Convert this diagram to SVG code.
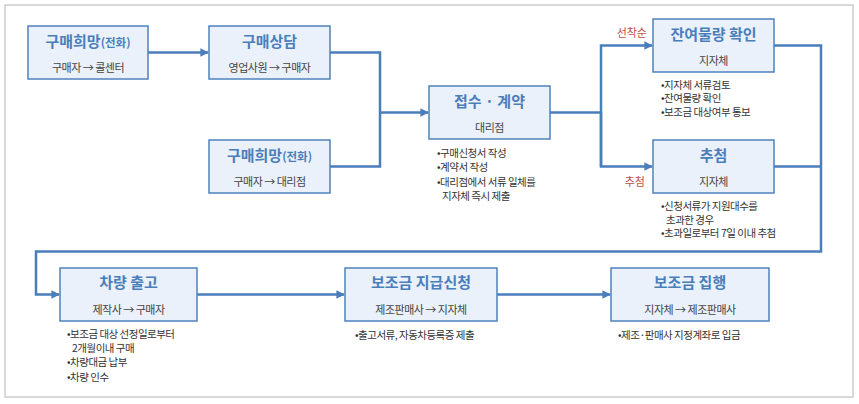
<svg xmlns="http://www.w3.org/2000/svg" width="859" height="404" viewBox="0 0 859 404">
<style>
.box{fill:#eaf1fa;stroke:#4f81bd;stroke-width:1.5}
.ttl{font-family:"Noto Sans CJK KR","Noto Sans",sans-serif;font-size:15px;font-weight:bold;fill:#4a7ebb;text-anchor:middle}
.sm{font-size:11.5px}
.sub{font-family:"Noto Sans CJK KR","Noto Sans",sans-serif;font-size:11px;fill:#444;text-anchor:middle;letter-spacing:-0.5px}
.bl{font-family:"Noto Sans CJK KR","Noto Sans",sans-serif;font-size:10.5px;fill:#333;letter-spacing:-0.5px}
.red{font-family:"Noto Sans CJK KR","Noto Sans",sans-serif;font-size:11px;fill:#c0504d;text-anchor:end}
.ln{fill:none;stroke:#4a7ebb;stroke-width:2.5}
</style>
<defs>
<marker id="ah" viewBox="0 0 10 10" refX="9" refY="5" markerWidth="3.4" markerHeight="3.4" orient="auto" markerUnits="strokeWidth">
<path d="M0,0 L10,5 L0,10 z" fill="#4a7ebb"/>
</marker>
</defs>
<rect x="5" y="5" width="848" height="392" fill="#fff" stroke="#c0c0c0" stroke-width="1.2"/>
<g id="connectors">
<path class="ln" d="M148,52.5 H208" marker-end="url(#ah)"/>
<path class="ln" d="M330,52.5 H380 V166.5 H330"/>
<path class="ln" d="M380,112.5 H428" marker-end="url(#ah)"/>
<path class="ln" d="M550,112.5 H601"/>
<path class="ln" d="M601,166.5 V45.5 H652" marker-end="url(#ah)"/>
<path class="ln" d="M601,112.5 V166.5 H652" marker-end="url(#ah)"/>
<path class="ln" d="M774,45.5 H821 V251.5 H36 V294.5 H59" marker-end="url(#ah)"/>
<path class="ln" d="M774,166.5 H821"/>
<path class="ln" d="M197,294.5 H344" marker-end="url(#ah)"/>
<path class="ln" d="M497,294.5 H610" marker-end="url(#ah)"/>
</g>
<g id="n1">
<rect class="box" x="28" y="26" width="120" height="53"/>
<text class="ttl" x="88" y="47">구매희망<tspan class="sm">(전화)</tspan></text>
<text class="sub" x="88" y="72">구매자 → 콜센터</text>
</g>
<g id="n2">
<rect class="box" x="209" y="26" width="121" height="53"/>
<text class="ttl" x="269.5" y="47">구매상담</text>
<text class="sub" x="269.5" y="72">영업사원 → 구매자</text>
</g>
<g id="n3">
<rect class="box" x="209" y="140" width="121" height="53"/>
<text class="ttl" x="269.5" y="161">구매희망<tspan class="sm">(전화)</tspan></text>
<text class="sub" x="269.5" y="186">구매자 → 대리점</text>
</g>
<g id="n4">
<rect class="box" x="429" y="86" width="121" height="53"/>
<text class="ttl" x="489.5" y="107">접수 · 계약</text>
<text class="sub" x="489.5" y="132">대리점</text>
<text class="bl" x="437" y="157">•구매신청서 작성</text>
<text class="bl" x="437" y="171">•계약서 작성</text>
<text class="bl" x="437" y="186">•대리점에서 서류 일체를</text>
<text class="bl" x="442" y="200">지자체 즉시 제출</text>
</g>
<g id="n5">
<rect class="box" x="653" y="19" width="121" height="53"/>
<text class="ttl" x="713.5" y="40">잔여물량 확인</text>
<text class="sub" x="713.5" y="65">지자체</text>
<text class="bl" x="661" y="88.5">•지자체 서류검토</text>
<text class="bl" x="661" y="102">•잔여물량 확인</text>
<text class="bl" x="661" y="116">•보조금 대상여부 통보</text>
<text class="red" x="647" y="37">선착순</text>
</g>
<g id="n6">
<rect class="box" x="653" y="140" width="121" height="53"/>
<text class="ttl" x="713.5" y="161">추첨</text>
<text class="sub" x="713.5" y="186">지자체</text>
<text class="bl" x="661" y="210">•신청서류가 지원대수를</text>
<text class="bl" x="666" y="223.5">초과한 경우</text>
<text class="bl" x="661" y="237">•초과일로부터 7일 이내 추첨</text>
<text class="red" x="645" y="186">추첨</text>
</g>
<g id="n7">
<rect class="box" x="60" y="268" width="137" height="53"/>
<text class="ttl" x="128.5" y="288">차량 출고</text>
<text class="sub" x="128.5" y="314">제작사 → 구매자</text>
<text class="bl" x="67" y="338">•보조금 대상 선정일로부터</text>
<text class="bl" x="72" y="352">2개월이내 구매</text>
<text class="bl" x="67" y="366">•차량대금 납부</text>
<text class="bl" x="67" y="380.5">•차량 인수</text>
</g>
<g id="n8">
<rect class="box" x="345" y="268" width="152" height="53"/>
<text class="ttl" x="421" y="288">보조금 지급신청</text>
<text class="sub" x="421" y="314">제조판매사 → 지자체</text>
<text class="bl" x="355" y="339">•출고서류, 자동차등록증 제출</text>
</g>
<g id="n9">
<rect class="box" x="611" y="268" width="158" height="53"/>
<text class="ttl" x="690" y="288">보조금 집행</text>
<text class="sub" x="690" y="314">지자체 → 제조판매사</text>
<text class="bl" x="618" y="339">•제조·판매사 지정계좌로 입금</text>
</g>
</svg>
